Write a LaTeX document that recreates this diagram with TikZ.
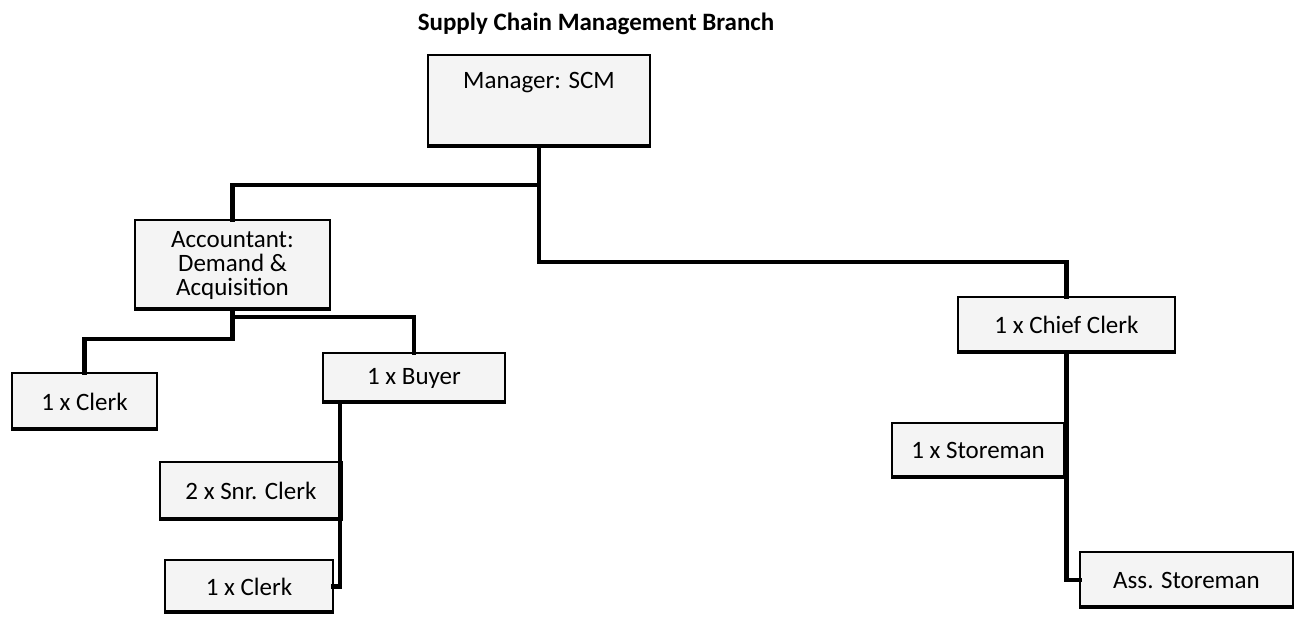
\documentclass[tikz,border=0pt]{standalone}
\usepackage{fontspec}
\setmainfont{Carlito}
\begin{document}
\begin{tikzpicture}[x=1pt,y=-1pt,
  box/.style={draw=black, line width=1.2pt, fill=gray!9, inner sep=0pt,
    font=\fontsize{25}{24}\selectfont, align=center,
    path picture={\draw[line width=7pt,black] (path picture bounding box.south west) -- (path picture bounding box.south east);
                  \draw[line width=2.5pt,black!70] (path picture bounding box.south west) -- (path picture bounding box.north west);}},
  conn/.style={line width=4.5pt, draw=black, line cap=rect}]
\useasboundingbox (0,0) rectangle (1300,616);
\node[font=\bfseries\fontsize{25}{30}\selectfont] (title) at (596,24) {Supply Chain Management Branch};
\node[box, minimum width=222pt, text height=33pt, text depth=59pt] (mgr) at (539,101) {Manager: SCM};
\node[box, minimum width=195pt, minimum height=90pt] (acc) at (232.5,265) {Accountant:\\Demand \&\\Acquisition};
\node[box, minimum width=145pt, minimum height=57pt] (clerka) at (84.5,401.5) {1 x Clerk};
\node[box, minimum width=182pt, minimum height=50pt] (buyer) at (414,378) {1 x Buyer};
\node[box, minimum width=182pt, minimum height=58pt] (snr) at (251,491) {2 x Snr. Clerk};
\node[box, minimum width=168pt, minimum height=53pt] (clerkb) at (249,586.5) {1 x Clerk};
\node[box, minimum width=217pt, minimum height=56pt] (chief) at (1066.5,325) {1 x Chief Clerk};
\node[box, minimum width=172pt, minimum height=55pt] (store) at (978,450.5) {1 x Storeman};
\node[box, minimum width=213pt, minimum height=56pt] (ass) at (1186.5,580) {Ass. Storeman};
\coordinate (h1) at (0,185);
\coordinate (h2) at (0,262);
\coordinate (h3) at (0,339);
\coordinate (h4) at (0,317);
\coordinate (v1) at (340,0);
\draw[conn] (mgr.south) |- (acc.north |- h1) -- (acc.north);
\draw[conn] (mgr.south) |- (chief.north |- h2) -- (chief.north);
\draw[conn] (acc.south) |- (clerka.north |- h3) -- (clerka.north);
\draw[conn] (acc.south) |- (buyer.north |- h4) -- (buyer.north);
\draw[conn] (v1 |- buyer.south) |- (clerkb.east);
\draw[conn] (chief.south) |- (ass.west);
\end{tikzpicture}
\end{document}
